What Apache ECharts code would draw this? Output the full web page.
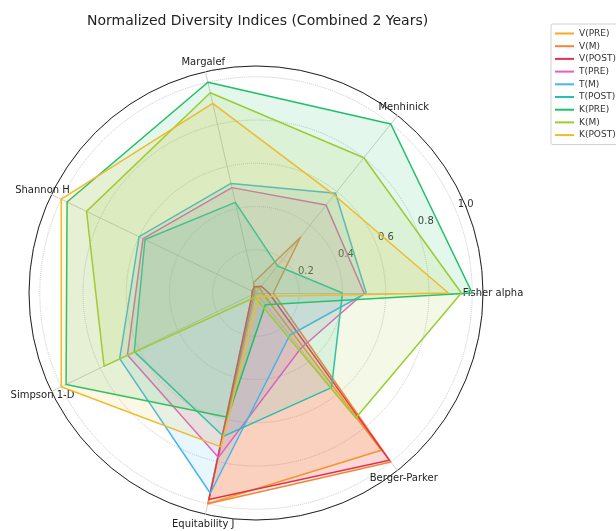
<!DOCTYPE html>
<html>
<head>
<meta charset="utf-8">
<script src="https://cdn.jsdelivr.net/npm/echarts@6/dist/echarts.min.js"></script>
<style>
  html, body { margin: 0; padding: 0; background: #fff; }
  #chart { width: 616px; height: 531px; }
</style>
</head>
<body>
<div id="chart"></div>
<script>
const indicators = ['Fisher alpha', 'Menhinick', 'Margalef', 'Shannon H', 'Simpson 1-D', 'Equitability J', 'Berger-Parker']
const radialTicks = [0.2, 0.4, 0.6, 0.8, 1.0]

// one list per group, same order as indicators
const vPre = [0.03, 0.03, 0.03, 0.02, 0.02, 1.0, 0.93]
const vM = [0.08, 0.33, 0.05, 0.01, 0.01, 1.0, 1.0]
const vPost = [0.06, 0.04, 0.03, 0.02, 0.02, 0.98, 0.99]
const tPre = [0.50, 0.52, 0.50, 0.58, 0.66, 0.78, 0.33]
const tM = [0.51, 0.59, 0.52, 0.60, 0.70, 0.95, 0.25]
const tPost = [0.40, 0.16, 0.43, 0.57, 0.625, 0.68, 0.56]
const kPre = [1.0, 1.0, 1.0, 0.97, 0.975, 0.59, 0.07]
const kM = [0.95, 0.80, 0.95, 0.87, 0.78, 0.02, 0.74]
const kPost = [0.89, 0.58, 0.90, 1.0, 1.0, 0.73, 0.02]

const groups = [
  ['V(PRE)', vPre, '#f9a825'],
  ['V(M)', vM, '#f5843a'],
  ['V(POST)', vPost, '#e5304f'],
  ['T(PRE)', tPre, '#ea5cc0'],
  ['T(M)', tM, '#45b6ee'],
  ['T(POST)', tPost, '#22c1b5'],
  ['K(PRE)', kPre, '#1fbf68'],
  ['K(M)', kM, '#9acd32'],
  ['K(POST)', kPost, '#efbb2b']
]

const font = 'DejaVu Sans'
const center = [256, 293]
const outer = 227

const option = {
  backgroundColor: '#fff',
  animation: false,
  title: {
    text: 'Normalized Diversity Indices (Combined 2 Years)',
    left: 82,
    top: 9,
    textStyle: { fontFamily: font, fontSize: 14, fontWeight: 'normal', color: '#222' }
  },
  legend: {
    orient: 'vertical',
    left: 551,
    top: 24,
    padding: [5, 20, 5, 4],
    itemWidth: 19,
    itemHeight: 2,
    itemGap: 3.7,
    icon: 'rect',
    borderColor: '#d0d0d0',
    borderWidth: 1,
    borderRadius: 2,
    backgroundColor: '#fff',
    textStyle: { fontFamily: font, fontSize: 9, color: '#333' },
    data: groups.map(g => g[0])
  },
  polar: { center, radius: outer },
  angleAxis: {
    type: 'value',
    min: 0,
    max: 360,
    startAngle: 22.5,
    axisLine: { lineStyle: { color: '#222', width: 1 } },
    axisTick: { show: false },
    axisLabel: { show: false },
    splitLine: { show: false }
  },
  radiusAxis: {
    type: 'value',
    min: 0,
    max: 1.05,
    interval: 0.2,
    axisLine: { show: false },
    axisTick: { show: false },
    splitLine: { lineStyle: { color: '#c8c8c8', type: 'dotted', width: 1 } },
    axisLabel: {
      margin: 0,
      align: 'center',
      verticalAlign: 'middle',
      padding: [0, 0, 9, 20],
      fontFamily: font,
      fontSize: 10,
      color: '#333',
      formatter: v => radialTicks.some(t => Math.abs(t - v) < 1e-6) ? '{t|' + v.toFixed(1) + '}' : '',
      rich: {
        t: { fontFamily: font, fontSize: 10, color: '#333', padding: [0, 0, 2, 0] }
      }
    }
  },
  radar: {
    center,
    radius: outer,
    startAngle: 0,
    shape: 'circle',
    nameGap: 10,
    indicator: indicators.map(name => ({ name, min: 0, max: 1.05 })),
    axisName: { fontFamily: font, fontSize: 10, color: '#222', align: 'center', verticalAlign: 'middle' },
    axisLine: { lineStyle: { color: '#c8c8c8', type: 'dotted', width: 1 } },
    axisTick: { show: false },
    axisLabel: { show: false },
    splitLine: { show: false },
    splitArea: { show: false }
  },
  series: groups.map(([name, values, color]) => ({
    type: 'radar',
    name,
    symbol: 'none',
    color,
    lineStyle: { color, width: 1.5 },
    areaStyle: { color, opacity: 0.12 },
    data: [{ name, value: values }]
  }))
}

const chart = echarts.init(document.getElementById('chart'))
chart.setOption(option)
</script>
</body>
</html>
